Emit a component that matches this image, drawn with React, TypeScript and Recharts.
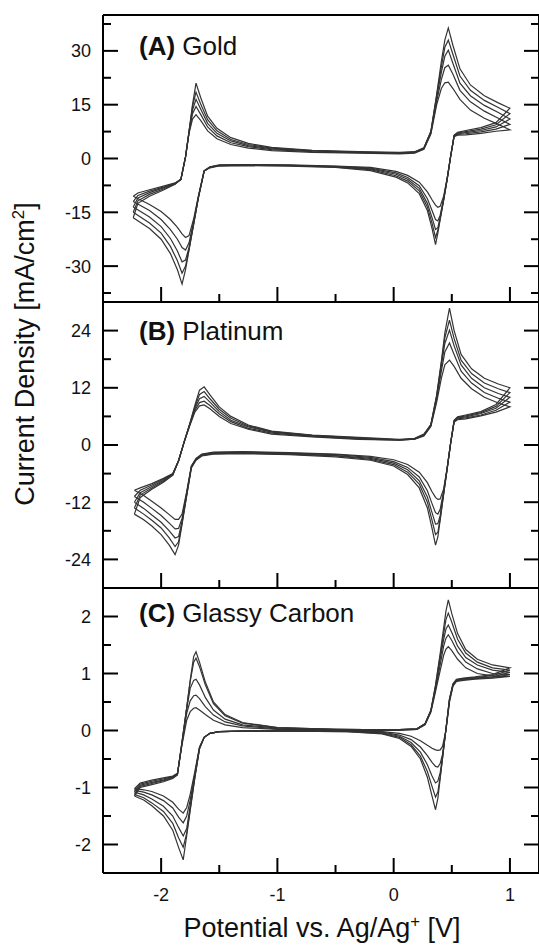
import React from "react";
import { LineChart, Line, XAxis, YAxis } from "recharts";

// shared potential axis
const X_DOMAIN: [number, number] = [-2.5, 1.25];
const X_TICKS = [-2, -1.5, -1, -0.5, 0, 0.5, 1];
const X_MAJOR = [-2, -1, 0, 1];

// (A) Gold, five scan rates (smallest first)
const GOLD_Y_TICKS = [-37.5, -30, -22.5, -15, -7.5, 0, 7.5, 15, 22.5, 30, 37.5];
const GOLD_Y_MAJOR = [-30, -15, 0, 15, 30];
const GOLD_FWD_X = [-2.24, -2.2, -2.1, -1.98, -1.88, -1.83, -1.79, -1.76, -1.73, -1.7, -1.66, -1.6, -1.52, -1.4, -1.25, -1.05, -0.7, -0.3, 0.05, 0.18, 0.26, 0.32, 0.37, 0.41, 0.44, 0.47, 0.51, 0.57, 0.66, 0.78, 0.9, 1.0];
const GOLD_FWD = [
  [-10.5, -9.6, -8.7, -7.7, -6.8, -5.8, 0.4, 7, 11, 12.2, 10.6, 7.7, 5.5, 3.9, 2.9, 2.2, 1.7, 1.5, 1.3, 1.5, 2.6, 6.8, 15, 19.5, 21.1, 21.3, 19.5, 16.5, 13.5, 11.2, 9.5, 8],
  [-12, -10.3, -9.1, -8, -6.9, -5.8, 0.5, 7.3, 12.5, 14.5, 12.3, 8.8, 6.3, 4.4, 3.3, 2.5, 1.9, 1.6, 1.4, 1.6, 2.7, 7.1, 16, 22, 25.3, 26, 23.5, 19, 15.8, 13.2, 11.2, 9.5],
  [-13.5, -11, -9.5, -8.2, -7, -5.8, 0.5, 7.5, 13.5, 16.5, 13.8, 9.8, 7, 4.9, 3.6, 2.7, 2.1, 1.7, 1.5, 1.7, 2.8, 7.3, 17, 24, 28.5, 30.2, 26.5, 21, 17.5, 14.8, 12.8, 11],
  [-15, -11.8, -10, -8.5, -7.1, -5.8, 0.5, 7.5, 14.5, 18.5, 15.2, 10.8, 7.7, 5.3, 3.9, 2.9, 2.2, 1.8, 1.6, 1.8, 2.9, 7.5, 17.5, 25.5, 31, 33, 29, 23, 19, 16.2, 14.2, 12.5],
  [-16.5, -12.5, -10.5, -8.8, -7.2, -5.8, 0.5, 7.5, 15, 21, 17, 11.8, 8.4, 5.8, 4.2, 3.1, 2.3, 1.9, 1.7, 1.9, 3.0, 7.5, 17.9, 27, 33, 36.4, 31.5, 25, 20.5, 17.5, 15.5, 14],
];
const GOLD_REV_X = [1.0, 0.88, 0.75, 0.62, 0.55, 0.52, 0.49, 0.46, 0.43, 0.4, 0.38, 0.36, 0.33, 0.29, 0.22, 0.12, 0.02, -0.2, -0.5, -0.9, -1.3, -1.5, -1.58, -1.63, -1.68, -1.72, -1.76, -1.79, -1.82, -1.86, -1.92, -2.0, -2.1, -2.24];
const GOLD_REV = [
  [8, 7.6, 7, 6.6, 6.5, 6.1, 0.6, -5.5, -10.5, -13.3, -13.6, -13, -11.5, -9.3, -6.6, -4.7, -3.6, -2.5, -2.1, -1.8, -1.7, -1.8, -2.3, -3.4, -10.5, -16.8, -21.5, -22, -21, -19.2, -17, -14.8, -12.8, -10.5],
  [9.5, 8.2, 7.4, 6.9, 6.7, 6.2, 0.6, -5.7, -11.2, -15.8, -17.4, -17, -14.5, -11.2, -7.6, -5.3, -4.0, -2.7, -2.2, -1.9, -1.8, -1.9, -2.4, -3.5, -10.8, -17.5, -23.5, -25.5, -24.8, -22.5, -19.8, -17, -14.5, -12],
  [11, 8.8, 7.8, 7.2, 6.9, 6.3, 0.6, -5.8, -11.4, -16.5, -19.3, -19.8, -16.5, -12.5, -8.3, -5.8, -4.4, -2.9, -2.3, -1.9, -1.8, -1.9, -2.4, -3.5, -11, -18, -24.8, -28.3, -28.8, -25.8, -22.3, -19, -16.3, -13.5],
  [12.5, 9.4, 8.2, 7.5, 7.1, 6.4, 0.6, -5.8, -11.5, -16.8, -20, -22, -18, -13.5, -9, -6.3, -4.8, -3.1, -2.4, -2.0, -1.9, -2.0, -2.5, -3.5, -11, -18.2, -25.3, -30, -32, -28.5, -24.5, -20.8, -18, -15],
  [14, 10, 8.6, 7.8, 7.3, 6.5, 0.6, -5.8, -11.6, -17, -20.8, -24, -19.5, -14.5, -9.8, -6.8, -5.2, -3.4, -2.5, -2.1, -2.0, -2.1, -2.6, -3.5, -11, -18.3, -25.5, -31, -35, -31, -26.5, -22.5, -19.5, -16.5],
];

// (B) Platinum
const PT_Y_TICKS = [-24, -18, -12, -6, 0, 6, 12, 18, 24];
const PT_Y_MAJOR = [-24, -12, 0, 12, 24];
const PT_FWD_X = [-2.23, -2.18, -2.08, -1.98, -1.9, -1.85, -1.8, -1.75, -1.71, -1.67, -1.63, -1.58, -1.5, -1.4, -1.25, -1.05, -0.7, -0.3, 0.05, 0.18, 0.26, 0.32, 0.37, 0.41, 0.44, 0.48, 0.52, 0.58, 0.67, 0.78, 0.9, 1.0];
const PT_FWD = [
  [-9.5, -9, -8.1, -7, -6, -3.3, 0.7, 4.3, 6.9, 8.2, 8.4, 7.6, 6, 4.5, 3.3, 2.3, 1.7, 1.2, 1.0, 1.2, 1.9, 3.9, 9, 14, 16.8, 17.8, 16.5, 14, 11.8, 10, 8.8, 8],
  [-10.8, -9.5, -8.4, -7.2, -6.1, -3.3, 0.8, 4.5, 7.3, 8.9, 9.2, 8.3, 6.5, 4.9, 3.5, 2.5, 1.8, 1.3, 1.0, 1.2, 2.0, 4.1, 9.6, 15.5, 19.5, 21.4, 19, 15.5, 13, 11, 9.8, 9],
  [-12, -10, -8.7, -7.4, -6.2, -3.3, 0.8, 4.6, 7.7, 9.7, 10.2, 9, 7, 5.2, 3.8, 2.7, 1.9, 1.4, 1.1, 1.3, 2.1, 4.2, 10, 16.6, 21.3, 24.1, 20.8, 16.8, 14, 12, 10.8, 10],
  [-13.2, -10.5, -9, -7.6, -6.3, -3.3, 0.8, 4.7, 8, 10.6, 11.2, 9.7, 7.5, 5.6, 4, 2.8, 2, 1.5, 1.1, 1.3, 2.2, 4.3, 10.3, 17.2, 22.5, 26.2, 22.3, 17.8, 15, 13, 11.8, 11],
  [-14.5, -11, -9.3, -7.8, -6.3, -3.3, 0.8, 4.8, 8.3, 11.5, 12.2, 10.5, 8, 6, 4.2, 2.9, 2.1, 1.6, 1.2, 1.4, 2.3, 4.3, 10.5, 17.5, 23.5, 28.7, 24, 19, 16, 14, 12.8, 12],
];
const PT_REV_X = [1.0, 0.88, 0.75, 0.62, 0.55, 0.52, 0.49, 0.46, 0.43, 0.4, 0.38, 0.36, 0.33, 0.29, 0.22, 0.12, 0.0, -0.2, -0.5, -0.9, -1.3, -1.55, -1.65, -1.7, -1.74, -1.78, -1.82, -1.85, -1.88, -1.93, -2.0, -2.08, -2.15, -2.23];
const PT_REV = [
  [8, 6.9, 6.1, 5.5, 5.3, 4.8, 0.4, -4.8, -9.2, -11.3, -11.4, -11, -9.8, -7.9, -5.7, -4.1, -3.1, -2.4, -1.9, -1.6, -1.4, -1.5, -1.9, -2.8, -4.4, -9.8, -14.5, -15.6, -15.6, -14.6, -13.2, -11.8, -10.6, -9.5],
  [9, 7.3, 6.3, 5.7, 5.5, 4.9, 0.4, -4.9, -9.7, -13.5, -14.5, -14.2, -12.3, -9.6, -6.7, -4.7, -3.5, -2.6, -2.0, -1.7, -1.5, -1.6, -2.0, -2.9, -4.5, -10, -15.4, -17.5, -17.6, -16.4, -14.8, -13.3, -12, -10.8],
  [10, 7.7, 6.6, 5.9, 5.7, 5.0, 0.4, -5, -10, -14.8, -16.5, -16.6, -14.2, -10.9, -7.5, -5.2, -3.8, -2.8, -2.2, -1.8, -1.6, -1.7, -2.1, -3.0, -4.6, -10.3, -16, -19.2, -19.5, -18, -16.2, -14.7, -13.3, -12],
  [11, 8.1, 6.8, 6.1, 5.8, 5.1, 0.4, -5, -10.2, -15.5, -18.3, -18.8, -15.8, -12, -8.2, -5.7, -4.1, -3.0, -2.3, -1.9, -1.7, -1.8, -2.2, -3.1, -4.7, -10.5, -16.4, -20.3, -21.3, -19.5, -17.4, -15.8, -14.5, -13.2],
  [12, 8.5, 7, 6.3, 5.9, 5.2, 0.4, -5, -10.3, -15.7, -19.3, -21, -17.5, -13.2, -9, -6.2, -4.4, -3.2, -2.5, -2.0, -1.8, -1.9, -2.3, -3.2, -4.8, -10.6, -16.6, -21, -23, -21, -18.8, -17, -15.7, -14.5],
];

// (C) Glassy Carbon
const GC_Y_TICKS = [-2, -1.5, -1, -0.5, 0, 0.5, 1, 1.5, 2];
const GC_Y_MAJOR = [-2, -1, 0, 1, 2];
const GC_FWD_X = [-2.23, -2.18, -2.08, -1.98, -1.9, -1.86, -1.82, -1.78, -1.75, -1.72, -1.7, -1.67, -1.62, -1.55, -1.45, -1.3, -1.0, -0.5, 0.0, 0.2, 0.27, 0.32, 0.36, 0.4, 0.43, 0.45, 0.47, 0.5, 0.55, 0.62, 0.72, 0.85, 1.0];
const GC_FWD = [
  [-1.02, -0.92, -0.87, -0.83, -0.8, -0.75, -0.25, 0.18, 0.33, 0.39, 0.4, 0.36, 0.28, 0.18, 0.1, 0.05, 0.02, 0.01, 0.0, 0.02, 0.1, 0.32, 0.68, 1.05, 1.32, 1.43, 1.47, 1.4, 1.25, 1.1, 1.0, 0.96, 0.95],
  [-1.05, -0.94, -0.89, -0.85, -0.81, -0.76, -0.22, 0.3, 0.52, 0.61, 0.62, 0.56, 0.42, 0.27, 0.15, 0.08, 0.03, 0.01, 0.0, 0.02, 0.11, 0.34, 0.72, 1.15, 1.48, 1.62, 1.68, 1.58, 1.38, 1.2, 1.08, 1.0, 0.98],
  [-1.08, -0.96, -0.91, -0.87, -0.82, -0.77, -0.2, 0.38, 0.74, 0.88, 0.9, 0.8, 0.58, 0.36, 0.2, 0.1, 0.04, 0.02, 0.01, 0.03, 0.12, 0.35, 0.75, 1.25, 1.6, 1.78, 1.85, 1.72, 1.48, 1.28, 1.15, 1.06, 1.02],
  [-1.12, -0.98, -0.93, -0.88, -0.83, -0.78, -0.2, 0.4, 0.86, 1.2, 1.27, 1.12, 0.8, 0.47, 0.26, 0.13, 0.05, 0.02, 0.01, 0.03, 0.12, 0.35, 0.78, 1.3, 1.7, 1.95, 2.06, 1.9, 1.6, 1.36, 1.2, 1.1, 1.06],
  [-1.15, -1.0, -0.95, -0.9, -0.84, -0.78, -0.2, 0.4, 0.88, 1.3, 1.38, 1.2, 0.85, 0.5, 0.28, 0.14, 0.05, 0.02, 0.01, 0.03, 0.12, 0.35, 0.8, 1.35, 1.8, 2.1, 2.29, 2.05, 1.7, 1.42, 1.25, 1.15, 1.1],
];
const GC_REV_X = [1.0, 0.85, 0.7, 0.6, 0.54, 0.51, 0.48, 0.45, 0.42, 0.4, 0.38, 0.36, 0.33, 0.29, 0.23, 0.15, 0.05, -0.1, -0.4, -0.9, -1.3, -1.5, -1.58, -1.63, -1.67, -1.71, -1.75, -1.78, -1.81, -1.85, -1.9, -1.98, -2.08, -2.15, -2.23];
const GC_REV = [
  [0.95, 0.92, 0.9, 0.88, 0.86, 0.78, 0.5, 0.0, -0.28, -0.34, -0.35, -0.34, -0.31, -0.26, -0.18, -0.1, -0.05, -0.02, -0.01, 0.0, -0.01, -0.02, -0.05, -0.12, -0.29, -0.72, -1.12, -1.35, -1.45, -1.38, -1.26, -1.15, -1.07, -1.04, -1.02],
  [0.98, 0.93, 0.91, 0.89, 0.87, 0.79, 0.52, 0.02, -0.42, -0.58, -0.64, -0.63, -0.56, -0.44, -0.29, -0.16, -0.08, -0.03, -0.01, 0.0, -0.01, -0.02, -0.05, -0.12, -0.3, -0.76, -1.22, -1.5, -1.62, -1.52, -1.36, -1.23, -1.13, -1.08, -1.05],
  [1.02, 0.94, 0.92, 0.9, 0.88, 0.8, 0.54, 0.03, -0.47, -0.74, -0.89, -0.92, -0.8, -0.6, -0.38, -0.21, -0.1, -0.04, -0.01, -0.01, -0.01, -0.02, -0.05, -0.12, -0.31, -0.8, -1.32, -1.72, -1.85, -1.7, -1.5, -1.33, -1.2, -1.13, -1.08],
  [1.06, 0.96, 0.93, 0.91, 0.89, 0.81, 0.55, 0.03, -0.49, -0.82, -1.08, -1.17, -0.98, -0.72, -0.45, -0.25, -0.12, -0.05, -0.02, -0.01, -0.01, -0.02, -0.05, -0.12, -0.32, -0.82, -1.38, -1.8, -2.05, -1.88, -1.63, -1.42, -1.27, -1.18, -1.12],
  [1.1, 0.98, 0.94, 0.92, 0.9, 0.82, 0.55, 0.03, -0.49, -0.84, -1.19, -1.39, -1.15, -0.82, -0.5, -0.28, -0.14, -0.06, -0.02, -0.01, -0.01, -0.02, -0.05, -0.12, -0.32, -0.83, -1.4, -1.84, -2.27, -2.05, -1.75, -1.5, -1.32, -1.22, -1.15],
];

const FONT = '"Liberation Sans", Arial, Helvetica, sans-serif';
const INK = "#111";
const CURVE = "#333";

type Pt = { x: number; y: number };

// one closed loop per scan rate: forward sweep then the reverse sweep
const buildLoops = (fx: number[], fy: number[][], rx: number[], ry: number[][]): Pt[][] =>
  fy.map((ys, k) => [
    ...fx.map((x, i) => ({ x, y: ys[i] })),
    ...rx.map((x, i) => ({ x, y: ry[k][i] })),
  ]);

type Side = "left" | "right" | "top" | "bottom";

// ticks point inward, labels sit outside
const makeTick = (side: Side, majors: number[], withLabel: boolean) => (props: any) => {
  const { x, y, payload } = props;
  const v = payload.value as number;
  const major = majors.some((m) => Math.abs(m - v) < 1e-9);
  const len = major ? 15 : 8;
  let x2 = x;
  let y2 = y;
  if (side === "left") x2 = x + len;
  if (side === "right") x2 = x - len;
  if (side === "top") y2 = y + len;
  if (side === "bottom") y2 = y - len;
  return (
    <g>
      <line x1={x} y1={y} x2={x2} y2={y2} stroke="#000" strokeWidth={2} />
      {withLabel && major && side === "left" && (
        <text x={x - 12} y={y} dy="0.36em" textAnchor="end" fontSize={18} fontFamily={FONT} fill={INK}>
          {String(v)}
        </text>
      )}
      {withLabel && major && side === "bottom" && (
        <text x={x} y={y + 28} textAnchor="middle" fontSize={18} fontFamily={FONT} fill={INK}>
          {String(v)}
        </text>
      )}
    </g>
  );
};

const frame = { stroke: "#000", strokeWidth: 2 };

interface PanelProps {
  top: number;
  plotHeight: number;
  bottomSpace: number;
  loops: Pt[][];
  domain: [number, number];
  yTicks: number[];
  yMajor: number[];
  xLabels: boolean;
}

function Panel({ top, plotHeight, bottomSpace, loops, domain, yTicks, yMajor, xLabels }: PanelProps) {
  return (
    <div style={{ position: "absolute", left: 0, top }}>
      <LineChart width={559} height={10 + plotHeight + bottomSpace} margin={{ top: 0, right: 0, bottom: 0, left: 63 }}>
        <XAxis
          xAxisId="top"
          orientation="top"
          type="number"
          domain={X_DOMAIN}
          allowDataOverflow
          ticks={X_TICKS}
          interval={0}
          height={10}
          tickSize={0}
          tickMargin={0}
          tickLine={false}
          axisLine={frame}
          tick={makeTick("top", X_MAJOR, false)}
        />
        <XAxis
          xAxisId="bottom"
          orientation="bottom"
          type="number"
          dataKey="x"
          domain={X_DOMAIN}
          allowDataOverflow
          ticks={X_TICKS}
          interval={0}
          height={bottomSpace}
          tickSize={0}
          tickMargin={0}
          tickLine={false}
          axisLine={frame}
          tick={makeTick("bottom", X_MAJOR, xLabels)}
        />
        <YAxis
          yAxisId="left"
          orientation="left"
          type="number"
          dataKey="y"
          domain={domain}
          allowDataOverflow
          ticks={yTicks}
          interval={0}
          width={40}
          tickSize={0}
          tickMargin={0}
          tickLine={false}
          axisLine={frame}
          tick={makeTick("left", yMajor, true)}
        />
        <YAxis
          yAxisId="right"
          orientation="right"
          type="number"
          domain={domain}
          allowDataOverflow
          ticks={yTicks}
          interval={0}
          width={20}
          tickSize={0}
          tickMargin={0}
          tickLine={false}
          axisLine={frame}
          tick={makeTick("right", yMajor, false)}
        />
        {loops.map((pts, i) => (
          <Line
            key={i}
            xAxisId="bottom"
            yAxisId="left"
            data={pts}
            dataKey="y"
            type="linear"
            dot={false}
            activeDot={false}
            stroke={CURVE}
            strokeWidth={1.2}
            isAnimationActive={false}
          />
        ))}
      </LineChart>
    </div>
  );
}

const sup: React.CSSProperties = { fontSize: "0.62em", position: "relative", top: "-0.6em" };

function PanelLabel({ top, tag, name }: { top: number; tag: string; name: string }) {
  return (
    <div style={{ position: "absolute", left: 139, top, fontSize: 26, lineHeight: 1, whiteSpace: "nowrap", color: INK }}>
      <b>{tag}</b> {name}
    </div>
  );
}

export default function App() {
  const gold = buildLoops(GOLD_FWD_X, GOLD_FWD, GOLD_REV_X, GOLD_REV);
  const pt = buildLoops(PT_FWD_X, PT_FWD, PT_REV_X, PT_REV);
  const gc = buildLoops(GC_FWD_X, GC_FWD, GC_REV_X, GC_REV);

  return (
    <div
      style={{
        position: "absolute",
        left: 0,
        top: 0,
        width: 539,
        height: 948,
        overflow: "hidden",
        background: "#fff",
        fontFamily: FONT,
      }}
    >
      <Panel top={5} plotHeight={287} bottomSpace={10} loops={gold} domain={[-40, 40]} yTicks={GOLD_Y_TICKS} yMajor={GOLD_Y_MAJOR} xLabels={false} />
      <Panel top={292} plotHeight={286} bottomSpace={10} loops={pt} domain={[-30, 30]} yTicks={PT_Y_TICKS} yMajor={PT_Y_MAJOR} xLabels={false} />
      <Panel top={578} plotHeight={285} bottomSpace={35} loops={gc} domain={[-2.5, 2.5]} yTicks={GC_Y_TICKS} yMajor={GC_Y_MAJOR} xLabels={true} />

      <PanelLabel top={33} tag="(A)" name="Gold" />
      <PanelLabel top={318} tag="(B)" name="Platinum" />
      <PanelLabel top={600} tag="(C)" name="Glassy Carbon" />

      <div
        style={{
          position: "absolute",
          left: 25,
          top: 354,
          transform: "translate(-50%, -50%) rotate(-90deg)",
          fontSize: 27,
          lineHeight: 1,
          whiteSpace: "nowrap",
          color: INK,
        }}
      >
        Current Density [mA/cm<span style={sup}>2</span>]
      </div>

      <div
        style={{
          position: "absolute",
          left: 122,
          top: 914,
          width: 400,
          textAlign: "center",
          fontSize: 27,
          lineHeight: 1.1,
          whiteSpace: "nowrap",
          color: INK,
        }}
      >
        Potential vs. Ag/Ag<span style={sup}>+</span> [V]
      </div>
    </div>
  );
}
